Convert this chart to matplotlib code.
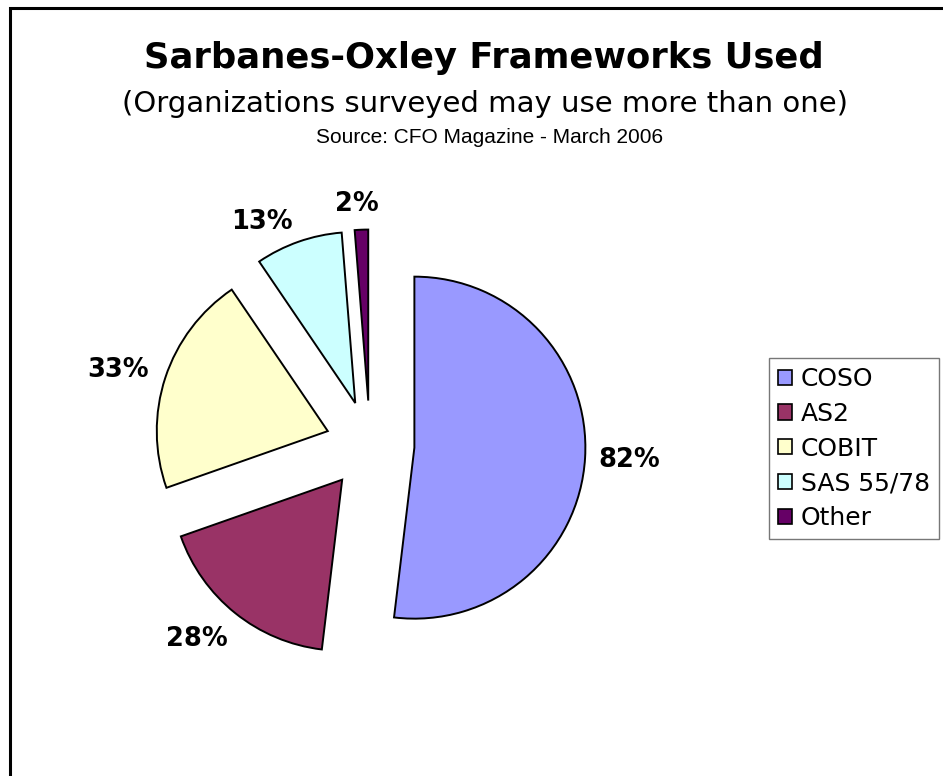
import numpy as np
import matplotlib
matplotlib.use("Agg")
import matplotlib.pyplot as plt
from matplotlib.patches import Rectangle

# Survey data (CFO Magazine, March 2006)
frameworks = ["COSO", "AS2", "COBIT", "SAS 55/78", "Other"]
percents = [82, 28, 33, 13, 2]
colors = ["#9999FF", "#993366", "#FFFFCC", "#CCFFFF", "#660066"]

W, H = 943, 776
fig = plt.figure(figsize=(W / 100, H / 100), dpi=100)

# outer chart border (runs off the right/bottom of the picture)
fig.patches.append(Rectangle((10, -20), W + 40, H - 8 + 20, transform=None,
                             fill=False, edgecolor="black", linewidth=2.2))

# pie axes: center at (370, 445) px, radius 171 px -> data radius 1
cx, cy, r = 370, 445, 171
half = 2 * r
ax = fig.add_axes([(cx - half) / W, (H - cy - half) / H, 2 * half / W, 2 * half / H])

wedges, texts = ax.pie(percents, colors=colors, startangle=90, counterclock=False,
                       explode=[0.26] * len(percents), radius=1,
                       labels=[f"{p}%" for p in percents], labeldistance=1.26,
                       wedgeprops=dict(edgecolor="black", linewidth=1.4),
                       textprops=dict(fontsize=18.5, fontweight="bold",
                                      ha="center", va="center"))
ax.set_xlim(-2, 2)
ax.set_ylim(-2, 2)
ax.axis("off")

# Excel-style "best fit" label placement: small nudges off the bisector
label_dist = [1.26, 1.26, 1.28, 1.19, 1.15]
label_turn = [0, -3.5, 2, 8, 1]
for w, t, d, turn in zip(wedges, texts, label_dist, label_turn):
    th = np.deg2rad((w.theta1 + w.theta2) / 2 + turn)
    t.set_position((w.center[0] + d * np.cos(th), w.center[1] + d * np.sin(th)))

fig.text(484 / W, 1 - 68 / H, "Sarbanes-Oxley Frameworks Used", ha="center", va="baseline",
         fontsize=25.5, fontweight="bold")
fig.text(485 / W, 1 - 112 / H, "(Organizations surveyed may use more than one)",
         ha="center", va="baseline", fontsize=21)
fig.text(490 / W, 1 - 143 / H, "Source: CFO Magazine - March 2006", ha="center", va="baseline",
         fontsize=15, family="Liberation Sans")

leg = fig.legend(wedges, frameworks, loc="upper left", bbox_to_anchor=(769 / W, 1 - 358 / H),
                 fontsize=18, frameon=True, fancybox=False, edgecolor="#555555",
                 handlelength=0.56, handleheight=0.56, handletextpad=0.36,
                 labelspacing=0.43, borderpad=0.36, borderaxespad=0)
leg.get_frame().set_linewidth(1.0)
for h in leg.legend_handles:
    h.set_linewidth(1.2)

fig.savefig("out.png", dpi=100)
